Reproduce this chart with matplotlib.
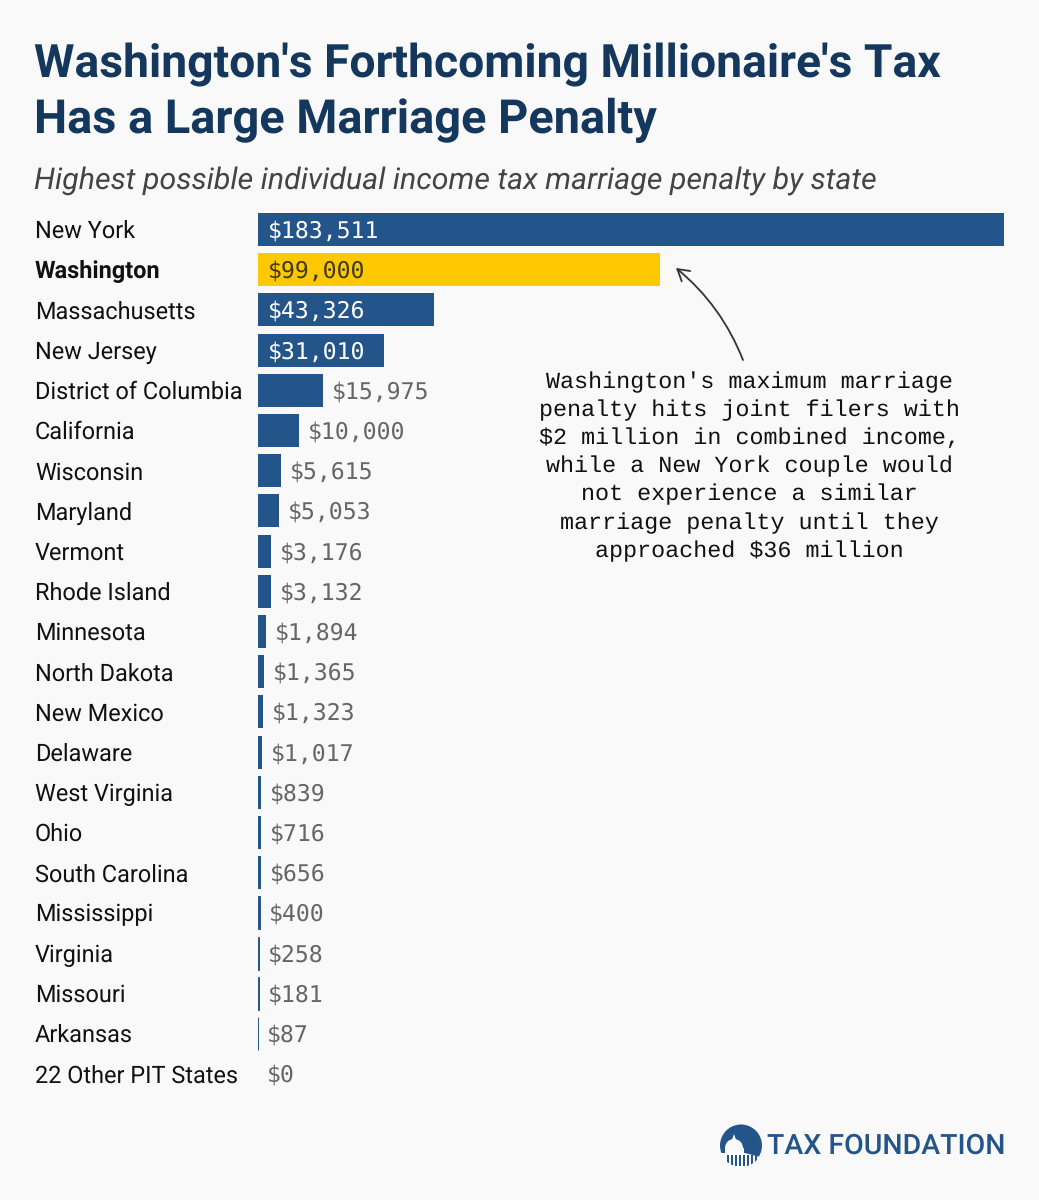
import matplotlib
matplotlib.use("Agg")
import matplotlib.pyplot as plt
from matplotlib.patches import Circle, FancyArrowPatch, Polygon, Rectangle, Wedge

plt.rcParams["text.hinting"] = "none"

W, H = 1039, 1200

states = ["New York", "Washington", "Massachusetts", "New Jersey", "District of Columbia",
          "California", "Wisconsin", "Maryland", "Vermont", "Rhode Island", "Minnesota",
          "North Dakota", "New Mexico", "Delaware", "West Virginia", "Ohio", "South Carolina",
          "Mississippi", "Virginia", "Missouri", "Arkansas", "22 Other PIT States"]
penalty = [183511, 99000, 43326, 31010, 15975, 10000, 5615, 5053, 3176, 3132, 1894,
           1365, 1323, 1017, 839, 716, 656, 400, 258, 181, 87, 0]

TITLE_1 = "Washington's Forthcoming Millionaire's Tax"
TITLE_2 = "Has a Large Marriage Penalty"
SUBTITLE = "Highest possible individual income tax marriage penalty by state"
NOTE = ("Washington's maximum marriage\npenalty hits joint filers with\n"
        "$2 million in combined income,\nwhile a New York couple would\n"
        "not experience a similar\nmarriage penalty until they\napproached $36 million")

BG = "#f9f9f9"
BLUE = "#24558a"
YELLOW = "#ffc800"
NAVY = "#14375e"

fig = plt.figure(figsize=(W / 100, H / 100), dpi=100, facecolor=BG)

# overlay in pixel coordinates for the text and logo
page = fig.add_axes([0, 0, 1, 1])
page.set_xlim(0, W)
page.set_ylim(H, 0)
page.axis("off")

# bars
ax = fig.add_axes([258 / W, 1 - 1093.8 / H, (1004 - 258) / W, (1093.8 - 209.4) / H])
ax.patch.set_alpha(0)
colors = [YELLOW if s == "Washington" else BLUE for s in states]
# the smallest bars still need a hairline, as in the original
widths = [0.7 if 0 < v < 500 else 0 for v in penalty]
ax.barh(range(len(states)), penalty, height=0.82, color=colors, edgecolor=colors,
        linewidth=widths, clip_on=False)
ax.set_xlim(0, max(penalty))
ax.set_ylim(21.5, -0.5)
ax.axis("off")

for i, (s, v) in enumerate(zip(states, penalty)):
    ax.annotate(s, (0, i), xytext=(-223 * 0.72, 0.3), textcoords="offset points",
                ha="left", va="center_baseline", family="Roboto", fontsize=16.95,
                color="#111111", fontweight="bold" if s == "Washington" else "normal")
    label = f"${v:,}"
    if v > 30000:
        col = "#3d3a10" if s == "Washington" else "white"
        ax.annotate(label, (0, i), xytext=(7, 0.5), textcoords="offset points",
                    ha="left", va="center_baseline", family="DejaVu Sans Mono",
                    fontsize=16.65, color=col)
    else:
        ax.annotate(label, (v, i), xytext=(6.4, 0.5), textcoords="offset points",
                    ha="left", va="center_baseline", family="DejaVu Sans Mono",
                    fontsize=16.65, color="#666666")

# headings
page.text(34, 77, TITLE_1, family="Roboto", fontweight="bold", fontsize=33.3, color=NAVY,
          ha="left", va="baseline")
page.text(34, 133, TITLE_2, family="Roboto", fontweight="bold", fontsize=33.75, color=NAVY,
          ha="left", va="baseline")
page.text(34, 181, SUBTITLE, family="Roboto", style="italic", fontsize=21.9, color="#444444",
          ha="left", va="center")

# callout
page.text(749.5, 466.5, NOTE, family="Liberation Mono", fontsize=16.85, color="#111111",
          ha="center", va="center", linespacing=1.405)
page.add_patch(FancyArrowPatch((743, 360), (676, 268), connectionstyle="arc3,rad=0.13",
                               arrowstyle="->,head_length=5,head_width=3", lw=1.3,
                               color="#333333", shrinkA=0, shrinkB=0, mutation_scale=1.6))

# logo
disc = Circle((741, 1145.5), 21, fc=BLUE, ec="none")
page.add_patch(disc)
page.add_patch(Wedge((734, 1148), 9, 180, 360, fc=BG, ec="none"))
page.add_patch(Polygon([(731.5, 1141), (736.5, 1141), (734, 1134)], fc=BG, ec="none"))
page.add_patch(Rectangle((725, 1148), 19, 5, fc=BG, ec="none"))
page.add_patch(Polygon([(721, 1153), (745, 1153), (760, 1157), (760, 1170), (721, 1170)],
                       fc=BG, ec="none"))
for x in range(727, 757, 4):
    pillar = Rectangle((x, 1155), 1.5, 11, fc=BLUE, ec="none")
    page.add_patch(pillar)
    pillar.set_clip_path(Circle((741, 1145.5), 21.5, transform=page.transData))
page.text(767, 1146, "TAX FOUNDATION", family="Roboto", fontweight="medium", fontsize=20.5,
          color=BLUE, ha="left", va="center")

fig.savefig("out.png", dpi=100, facecolor=BG)
